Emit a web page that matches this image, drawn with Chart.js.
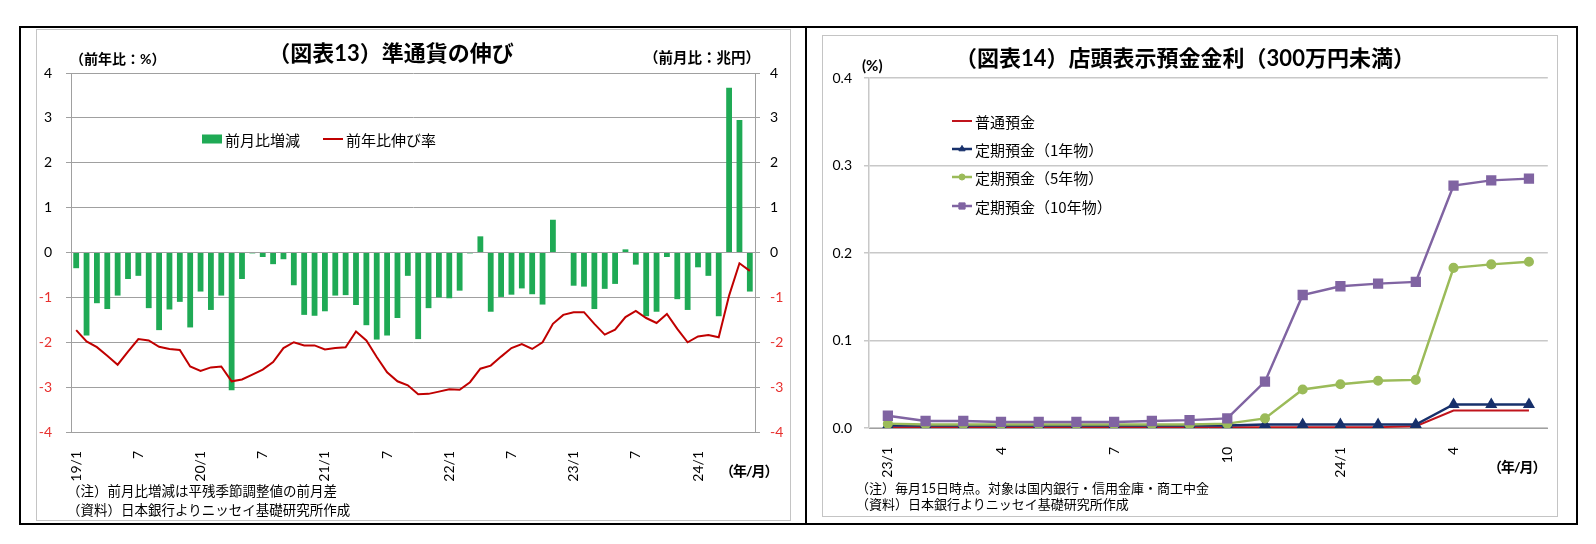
<!DOCTYPE html>
<html>
<head>
<meta charset="utf-8">
<script src="https://cdn.jsdelivr.net/npm/chart.js@4.4.1/dist/chart.umd.min.js"></script>
<style>
body { margin: 0; background: #fff; font-family: Lato, "Noto Sans CJK JP", sans-serif; }
#page { position: relative; width: 1596px; height: 544px; overflow: hidden; }
.box { position: absolute; box-sizing: border-box; }
.txt { position: absolute; white-space: nowrap; color: #000; }
canvas { position: absolute; }
</style>
</head>
<body>
<div id="page">
  <div class="box" style="left:19px;top:26px;width:1559px;height:499px;border:2px solid #000;"></div>
  <div class="box" style="left:805px;top:27px;width:2px;height:497px;background:#000;"></div>
  <div class="box" style="left:36px;top:29px;width:755px;height:492px;border:1.5px solid #c4c4c4;"></div>
  <div class="box" style="left:822px;top:35px;width:736px;height:482px;border:1.5px solid #c4c4c4;"></div>

  <canvas id="c13" width="753" height="490" style="left:37px;top:30px;"></canvas>
  <canvas id="c14" width="734" height="480" style="left:823px;top:36px;"></canvas>

  <div class="txt" style="left:391px;top:41px;transform:translateX(-50%);font-size:22px;font-weight:bold;line-height:24px;">（図表13）準通貨の伸び</div>
  <div class="txt" style="left:1185px;top:46px;transform:translateX(-50%);font-size:22px;font-weight:bold;line-height:24px;">（図表14）店頭表示預金金利（300万円未満）</div>

  <div class="txt" style="left:70px;top:50px;font-size:14px;font-weight:bold;line-height:18px;">（前年比：%）</div>
  <div class="txt" style="left:644px;top:49px;font-size:14.5px;font-weight:bold;line-height:18px;">（前月比：兆円）</div>
  <div class="txt" style="left:862px;top:56px;font-size:15px;font-weight:bold;line-height:18px;">(%)</div>

  <div class="txt" style="left:720px;top:462px;font-size:14px;font-weight:bold;line-height:18px;letter-spacing:-1px;">（年/月）</div>
  <div class="txt" style="left:1488px;top:458px;font-size:14px;font-weight:bold;line-height:18px;letter-spacing:-1px;">（年/月）</div>

  <div class="txt" style="left:67px;top:482px;font-size:13.5px;line-height:19px;">（注）前月比増減は平残季節調整値の前月差<br>（資料）日本銀行よりニッセイ基礎研究所作成</div>
  <div class="txt" style="left:856px;top:480px;font-size:13px;line-height:16px;">（注）毎月15日時点。対象は国内銀行・信用金庫・商工中金<br>（資料）日本銀行よりニッセイ基礎研究所作成</div>
</div>

<script>
// chart 13: 準通貨
const months13 = [
  "19/1","19/2","19/3","19/4","19/5","19/6","19/7","19/8","19/9","19/10","19/11","19/12",
  "20/1","20/2","20/3","20/4","20/5","20/6","20/7","20/8","20/9","20/10","20/11","20/12",
  "21/1","21/2","21/3","21/4","21/5","21/6","21/7","21/8","21/9","21/10","21/11","21/12",
  "22/1","22/2","22/3","22/4","22/5","22/6","22/7","22/8","22/9","22/10","22/11","22/12",
  "23/1","23/2","23/3","23/4","23/5","23/6","23/7","23/8","23/9","23/10","23/11","23/12",
  "24/1","24/2","24/3","24/4","24/5","24/6"
];
// 前月比増減（兆円）
const momChange = [
  -0.35, -1.85, -1.13, -1.26, -0.96, -0.59, -0.52, -1.24, -1.73, -1.27, -1.10, -1.67,
  -0.87, -1.28, -0.96, -3.07, -0.59, -0.02, -0.10, -0.26, -0.15, -0.73, -1.39, -1.41,
  -1.31, -0.96, -0.95, -1.17, -1.62, -1.94, -1.85, -1.46, -0.52, -1.93, -1.24, -1.00,
  -1.02, -0.85, -0.02, 0.36, -1.32, -0.99, -0.94, -0.80, -0.93, -1.16, 0.73, -0.01,
  -0.74, -0.76, -1.26, -0.81, -0.70, 0.07, -0.27, -1.42, -1.32, -0.10, -1.04, -1.28,
  -0.33, -0.52, -1.42, 3.67, 2.95, -0.87
];
// 前年比伸び率（%）
const yoyGrowth = [
  -1.73, -1.98, -2.11, -2.30, -2.50, -2.21, -1.93, -1.96, -2.10, -2.15, -2.17, -2.54,
  -2.64, -2.56, -2.54, -2.87, -2.83, -2.72, -2.61, -2.44, -2.13, -2.00, -2.07, -2.07,
  -2.16, -2.13, -2.11, -1.76, -1.96, -2.33, -2.67, -2.87, -2.96, -3.16, -3.15, -3.10,
  -3.05, -3.06, -2.89, -2.59, -2.52, -2.32, -2.13, -2.04, -2.15, -2.00, -1.59, -1.39,
  -1.33, -1.33, -1.59, -1.83, -1.72, -1.44, -1.30, -1.46, -1.57, -1.37, -1.70, -2.00,
  -1.87, -1.84, -1.89, -0.96, -0.24, -0.41
];

// chart 14: 店頭表示預金金利
const months14 = [
  "23/1","23/2","23/3","23/4","23/5","23/6","23/7","23/8","23/9","23/10","23/11","23/12",
  "24/1","24/2","24/3","24/4","24/5","24/6"
];
const futsuu = [0.001, 0.001, 0.001, 0.001, 0.001, 0.001, 0.001, 0.001, 0.001, 0.001, 0.001, 0.001, 0.001, 0.001, 0.002, 0.020, 0.020, 0.020];
const teiki1 = [0.003, 0.003, 0.003, 0.003, 0.003, 0.003, 0.003, 0.003, 0.003, 0.003, 0.004, 0.004, 0.004, 0.004, 0.004, 0.027, 0.027, 0.027];
const teiki5 = [0.005, 0.004, 0.004, 0.004, 0.004, 0.004, 0.004, 0.004, 0.004, 0.005, 0.011, 0.044, 0.050, 0.054, 0.055, 0.183, 0.187, 0.190];
const teiki10 = [0.014, 0.008, 0.008, 0.007, 0.007, 0.007, 0.007, 0.008, 0.009, 0.011, 0.053, 0.152, 0.162, 0.165, 0.167, 0.277, 0.283, 0.285];

const yTicks13 = [-4, -3, -2, -1, 0, 1, 2, 3, 4];
const yTicks14 = [0, 0.1, 0.2, 0.3, 0.4];

Chart.defaults.font.family = 'Lato, "Noto Sans CJK JP", sans-serif';
Chart.defaults.color = '#000';

const NEG_RED = '#e8312f';

// legend drawn at fixed spot inside the plot, like the excel one
const fixedLegend = {
  id: 'fixedLegend',
  afterDraw(chart, args, opts) {
    const ctx = chart.ctx;
    ctx.save();
    ctx.font = opts.font;
    ctx.textBaseline = 'middle';
    ctx.textAlign = 'left';
    opts.items.forEach(it => {
      const ds = chart.data.datasets[it.index];
      if (it.kind === 'box') {
        ctx.fillStyle = ds.backgroundColor;
        ctx.fillRect(it.x, it.y - 4.5, 20, 9);
      } else {
        ctx.strokeStyle = ds.borderColor;
        ctx.lineWidth = ds.borderWidth;
        ctx.beginPath();
        ctx.moveTo(it.x, it.y);
        ctx.lineTo(it.x + 20, it.y);
        ctx.stroke();
        if (ds.pointRadius > 0) {
          ctx.fillStyle = ds.pointBackgroundColor;
          ctx.lineWidth = 1;
          Chart.helpers.drawPoint(ctx, {
            pointStyle: ds.pointStyle,
            radius: ds.pointRadius * 0.8,
            rotation: 0,
            borderWidth: 1
          }, it.x + 10, it.y);
        }
      }
      ctx.fillStyle = '#000';
      ctx.fillText(ds.label, it.x + 23, it.y + 1);
    });
    ctx.restore();
  }
};

function tickColor(c) {
  return c.tick && c.tick.value < 0 ? NEG_RED : '#000';
}

new Chart(document.getElementById('c13'), {
  type: 'bar',
  data: {
    labels: months13,
    datasets: [
      {
        type: 'bar',
        label: '前月比増減',
        data: momChange,
        yAxisID: 'y2',
        backgroundColor: '#1faa55',
        barPercentage: 0.56,
        categoryPercentage: 1.0,
        order: 1
      },
      {
        type: 'line',
        label: '前年比伸び率',
        data: yoyGrowth,
        yAxisID: 'y',
        borderColor: '#c00000',
        borderWidth: 2,
        pointRadius: 0,
        tension: 0,
        order: 0
      }
    ]
  },
  options: {
    responsive: false,
    animation: false,
    layout: { padding: { top: 43, left: 0, right: 0, bottom: 0 } },
    plugins: {
      legend: { display: false },
      tooltip: { enabled: false },
      fixedLegend: {
        font: '15px "Noto Sans CJK JP"',
        items: [
          { index: 0, kind: 'box', x: 165, y: 109 },
          { index: 1, kind: 'line', x: 286, y: 109 }
        ]
      }
    },
    scales: {
      x: {
        grid: { display: false },
        border: { display: false },
        ticks: {
          autoSkip: false,
          minRotation: 90,
          maxRotation: 90,
          padding: 11,
          font: { size: 14 },
          callback: function (v) {
            const lab = this.getLabelForValue(v);
            const m = lab.split('/')[1];
            if (m === '1') return lab;
            if (m === '7') return '7';
            return '';
          }
        },
        afterFit: s => { s.height = 88; }
      },
      y: {
        position: 'left',
        min: yTicks13[0],
        max: yTicks13[yTicks13.length - 1],
        afterBuildTicks: s => { s.ticks = yTicks13.map(v => ({ value: v })); },
        grid: { color: '#a0a0a0', lineWidth: 1, tickLength: 5 },
        border: { color: '#a0a0a0' },
        ticks: { padding: 14, font: { size: 14 }, color: tickColor },
        afterFit: s => { s.width = 34; }
      },
      y2: {
        position: 'right',
        display: true,
        min: yTicks13[0],
        max: yTicks13[yTicks13.length - 1],
        afterBuildTicks: s => { s.ticks = yTicks13.map(v => ({ value: v })); },
        grid: { drawOnChartArea: false, color: '#a0a0a0', tickLength: 5 },
        border: { color: '#a0a0a0' },
        ticks: { padding: 10, font: { size: 14 }, color: tickColor },
        afterFit: s => { s.width = 35; }
      }
    }
  },
  plugins: [fixedLegend]
});

new Chart(document.getElementById('c14'), {
  type: 'line',
  data: {
    labels: months14,
    datasets: [
      {
        label: '普通預金',
        data: futsuu,
        borderColor: '#c0141c',
        borderWidth: 2,
        pointRadius: 0,
        tension: 0,
        order: 3
      },
      {
        label: '定期預金（1年物）',
        data: teiki1,
        borderColor: '#17306b',
        backgroundColor: '#17306b',
        pointBackgroundColor: '#17306b',
        pointBorderColor: '#17306b',
        pointStyle: 'triangle',
        pointRadius: 4.5,
        borderWidth: 2.5,
        tension: 0,
        order: 2
      },
      {
        label: '定期預金（5年物）',
        data: teiki5,
        borderColor: '#9bbb59',
        backgroundColor: '#9bbb59',
        pointBackgroundColor: '#9bbb59',
        pointBorderColor: '#9bbb59',
        pointStyle: 'circle',
        pointRadius: 3.8,
        borderWidth: 2.5,
        tension: 0,
        order: 1
      },
      {
        label: '定期預金（10年物）',
        data: teiki10,
        borderColor: '#8064a2',
        backgroundColor: '#8064a2',
        pointBackgroundColor: '#8064a2',
        pointBorderColor: '#8064a2',
        pointStyle: 'rect',
        pointRadius: 5.5,
        borderWidth: 2.5,
        tension: 0,
        order: 0
      }
    ]
  },
  options: {
    responsive: false,
    animation: false,
    layout: { padding: { top: 42, left: 0, right: 9, bottom: 0 } },
    plugins: {
      legend: { display: false },
      tooltip: { enabled: false },
      fixedLegend: {
        font: '15px "Noto Sans CJK JP"',
        items: [
          { index: 0, kind: 'line', x: 129, y: 85 },
          { index: 1, kind: 'line', x: 129, y: 113 },
          { index: 2, kind: 'line', x: 129, y: 141 },
          { index: 3, kind: 'line', x: 129, y: 170 }
        ]
      }
    },
    scales: {
      x: {
        offset: true,
        grid: { display: false },
        border: { display: true, color: '#a0a0a0' },
        ticks: {
          autoSkip: false,
          minRotation: 90,
          maxRotation: 90,
          padding: 11,
          font: { size: 14 },
          callback: function (v) {
            const lab = this.getLabelForValue(v);
            const m = lab.split('/')[1];
            if (m === '1') return lab;
            if (m === '4' || m === '7' || m === '10') return m;
            return '';
          }
        },
        afterFit: s => { s.height = 88; }
      },
      y: {
        min: yTicks14[0],
        max: yTicks14[yTicks14.length - 1],
        afterBuildTicks: s => { s.ticks = yTicks14.map(v => ({ value: v })); },
        grid: { color: '#c8c8c8', lineWidth: 1.5, tickLength: 5 },
        border: { color: '#c8c8c8', width: 1.5 },
        ticks: { padding: 12, font: { size: 14 }, callback: v => v.toFixed(1) },
        afterFit: s => { s.width = 46; }
      }
    }
  },
  plugins: [fixedLegend]
});
</script>
</body>
</html>
